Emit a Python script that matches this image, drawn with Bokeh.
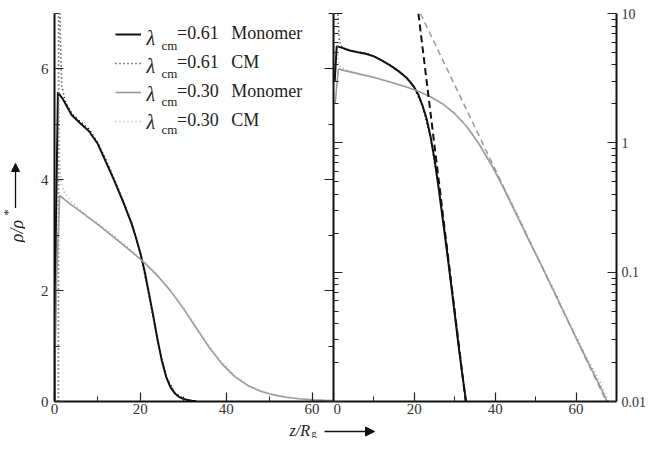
import numpy as np
from bokeh.plotting import figure
from bokeh.layouts import row, column
from bokeh.models import (LinearAxis, LogAxis, SingleIntervalTicker, FixedTicker, Label, Arrow,
                          NormalHead, Legend, LegendItem, CustomJSTickFormatter, Range1d)
from bokeh.embed import file_html
from bokeh.resources import INLINE

# ---------------- data ----------------
z_mono_061 = [0, 0.3, 0.8, 2, 4, 6, 8, 10, 12, 14, 16, 18, 19, 20, 21, 22, 23, 24, 25, 26, 27, 28, 29, 30, 31, 32, 33]
rho_mono_061 = [0, 3.0, 5.58, 5.45, 5.17, 5.02, 4.88, 4.66, 4.32, 3.97, 3.6, 3.2, 2.95, 2.68, 2.35, 1.95, 1.55, 1.12,
                0.74, 0.45, 0.26, 0.15, 0.085, 0.047, 0.026, 0.015, 0.009]

z_cm_061 = [0.9, 1.0, 1.15, 1.35, 1.7, 2.5, 4, 6, 8, 10, 12, 14, 16, 18, 20, 22, 24, 26, 28, 30, 32]
rho_cm_061 = [0, 14, 9, 6.6, 5.7, 5.4, 5.2, 5.05, 4.92, 4.68, 4.36, 4.0, 3.62, 3.22, 2.66, 1.92, 1.1, 0.45,
              0.16, 0.05, 0.015]

z_mono_030 = [0, 0.4, 1.2, 3, 6, 10, 14, 18, 21, 24, 27, 30, 33, 36, 39, 42, 45, 48, 51, 54, 57, 60, 63, 66, 68]
rho_mono_030 = [0, 2.0, 3.72, 3.6, 3.43, 3.2, 2.95, 2.7, 2.5, 2.27, 2.0, 1.68, 1.33, 0.98, 0.68, 0.45, 0.29,
                0.185, 0.12, 0.077, 0.049, 0.031, 0.02, 0.013, 0.0095]

z_cm_030 = [0.9, 1.0, 1.2, 1.6, 2.5, 4, 7, 10, 14, 18, 22, 26, 30, 34, 38, 42, 46, 50, 54, 58, 62, 66, 68]
rho_cm_030 = [0, 6.0, 4.4, 3.9, 3.75, 3.6, 3.38, 3.22, 2.98, 2.72, 2.42, 2.1, 1.7, 1.22, 0.79, 0.46, 0.26,
              0.14, 0.079, 0.043, 0.024, 0.014, 0.01]

# exponential tail fits (right, log panel)
fit_z_061 = [21.0, 32.7]
fit_rho_061 = [10.0, 0.01]
fit_z_030 = [21.5, 67.5]
fit_rho_030 = [10.0, 0.01]

legend_values = ["0.61", "0.61", "0.30", "0.30"]
legend_kinds = ["Monomer", "CM", "Monomer", "CM"]
log_major = [0.01, 0.1, 1, 10]
log_minor = [m * 10.0 ** e for e in (-2, -1, 0) for m in range(2, 10)]

SERIF = "Liberation Serif"
BLACK = "#111111"
TXT = "#222222"
GREY = "#999999"
GREY_DOT = "#a8a8a8"


def style_axis(ax, labels=True):
    ax.axis_line_width = 2
    ax.axis_line_color = BLACK
    ax.major_tick_in = 9
    ax.major_tick_out = 0
    ax.minor_tick_in = 5
    ax.minor_tick_out = 0
    ax.major_tick_line_color = "#222222"
    ax.minor_tick_line_color = "#222222"
    ax.major_tick_line_width = 1.2
    ax.minor_tick_line_width = 1.0
    ax.major_label_text_font = SERIF
    ax.major_label_text_font_size = "15px"
    ax.major_label_text_color = "#333333"
    ax.major_label_standoff = 5
    if not labels:
        ax.formatter = CustomJSTickFormatter(code="return ''")
        ax.major_label_standoff = 0


def pos(xs, ys):
    xs2, ys2 = [], []
    for a, b in zip(xs, ys):
        if b > 0:
            xs2.append(a)
            ys2.append(b)
    return xs2, ys2


def blank(w, h):
    f = figure(width=w, height=h, x_range=Range1d(0, w), y_range=Range1d(0, h),
               x_axis_type=None, y_axis_type=None, output_backend="svg", toolbar_location=None,
               min_border_left=0, min_border_right=0, min_border_top=0, min_border_bottom=0)
    f.outline_line_color = None
    f.grid.visible = False
    return f


TOP_B = 13
FRAME_H = 388
BOT_B = 18
TOP_H = TOP_B + FRAME_H + BOT_B   # 419
PL_W = 25

# ---------------- left (linear) panel ----------------
p1 = figure(width=308, height=TOP_H, x_range=Range1d(0, 65), y_range=Range1d(0, 7),
            output_backend="svg", toolbar_location=None,
            min_border_left=29, min_border_right=0, min_border_top=TOP_B, min_border_bottom=BOT_B)
p1.outline_line_color = None
p1.grid.visible = False
p1.xaxis.ticker = SingleIntervalTicker(interval=20, num_minor_ticks=2)
p1.yaxis.ticker = SingleIntervalTicker(interval=2, num_minor_ticks=2)
for ax in p1.xaxis + p1.yaxis:
    style_axis(ax)
p1.xaxis.major_label_standoff = 2
p1.yaxis.major_label_standoff = 6
rax = LinearAxis(ticker=SingleIntervalTicker(interval=2, num_minor_ticks=2))
style_axis(rax, labels=False)
p1.add_layout(rax, "right")

r1 = p1.line(z_mono_061, rho_mono_061, line_color=BLACK, line_width=2)
r2 = p1.line(z_cm_061, rho_cm_061, line_color=BLACK, line_width=1.6, line_dash="1 3")
r3 = p1.line(z_mono_030, rho_mono_030, line_color=GREY, line_width=1.6)
r4 = p1.line(z_cm_030, rho_cm_030, line_color=GREY_DOT, line_width=1.6, line_dash="1 3")

items = []
for r, v, k in zip([r1, r2, r3, r4], legend_values, legend_kinds):
    items.append(LegendItem(label="=" + v + "\u2002\u2009" + k, renderers=[r]))
legend = Legend(items=items, location=(61, 270), orientation="vertical", padding=0, margin=0,
                spacing=8, glyph_width=26, glyph_height=20, label_height=20, label_standoff=36,
                label_text_font=SERIF, label_text_font_size="18px", label_text_color=TXT,
                background_fill_alpha=0, border_line_color=None)
p1.add_layout(legend)

for i in range(len(legend_values)):
    p1.add_layout(Label(x=92, y=364 - 28 * i, x_units="screen", y_units="screen", text="λ",
                        text_font=SERIF, text_font_style="italic", text_font_size="20px",
                        text_baseline="middle", text_color=TXT))
    p1.add_layout(Label(x=107, y=356 - 28 * i, x_units="screen", y_units="screen", text="cm",
                        text_font=SERIF, text_font_size="13px",
                        text_baseline="middle", text_color=TXT))

# ---------------- right (log) panel ----------------
p2 = figure(width=316, height=TOP_H, x_range=Range1d(0, 70), y_range=Range1d(0.01, 10),
            y_axis_type="log", y_axis_location="right",
            output_backend="svg", toolbar_location=None,
            min_border_left=0, min_border_right=30, min_border_top=TOP_B, min_border_bottom=BOT_B)
p2.outline_line_color = None
p2.grid.visible = False
p2.xaxis.ticker = SingleIntervalTicker(interval=20, num_minor_ticks=2)
p2.yaxis.ticker = FixedTicker(ticks=log_major, minor_ticks=log_minor)
for ax in p2.xaxis + p2.yaxis:
    style_axis(ax)
p2.xaxis.major_label_standoff = 2
p2.yaxis.major_label_standoff = 5
p2.yaxis.major_label_text_font_size = "14px"
p2.yaxis.formatter = CustomJSTickFormatter(code="return tick >= 1 ? tick.toFixed(0) : String(tick)")
lax = LogAxis(ticker=FixedTicker(ticks=log_major, minor_ticks=log_minor))
style_axis(lax, labels=False)
p2.add_layout(lax, "left")

p2.line(*pos(z_mono_061, rho_mono_061), line_color=BLACK, line_width=2)
p2.line(*pos(z_cm_061, rho_cm_061), line_color=BLACK, line_width=1.6, line_dash="1 3")
p2.line(*pos(z_mono_030, rho_mono_030), line_color=GREY, line_width=1.6)
p2.line(*pos(z_cm_030, rho_cm_030), line_color=GREY_DOT, line_width=1.6, line_dash="1 3")
p2.line(fit_z_061, fit_rho_061, line_color=BLACK, line_width=2, line_dash="7 4")
p2.line(fit_z_030, fit_rho_030, line_color=GREY, line_width=1.5, line_dash="6 4")

# ---------------- y title strip (left) ----------------
pl = blank(PL_W, TOP_H)
pl.add_layout(Label(x=16, y=TOP_H - 235, text="ρ/ρ", angle=np.pi / 2,
                    text_font=SERIF, text_font_style="italic", text_font_size="18px",
                    text_align="center", text_baseline="middle", text_color=TXT))
pl.add_layout(Label(x=7, y=TOP_H - 215, text="*", angle=np.pi / 2,
                    text_font=SERIF, text_font_size="13px",
                    text_align="center", text_baseline="middle", text_color=TXT))
pl.add_layout(Arrow(x_start=15, y_start=TOP_H - 210, x_end=15, y_end=TOP_H - 162,
                    line_color=BLACK, line_width=1.3,
                    end=NormalHead(size=8, fill_color=BLACK, line_color=BLACK)))

# ---------------- x title strip (bottom) ----------------
BOT_H = 19
pb = blank(646, BOT_H)
pb.add_layout(Label(x=289, y=0, text="z/R",
                    text_font=SERIF, text_font_style="italic", text_font_size="16px",
                    text_baseline="bottom", text_color=TXT))
pb.add_layout(Label(x=311, y=0, text="g",
                    text_font=SERIF, text_font_size="10px",
                    text_baseline="bottom", text_color=TXT))
pb.add_layout(Arrow(x_start=324, y_start=7, x_end=374, y_end=7,
                    line_color=BLACK, line_width=1.3,
                    end=NormalHead(size=9, fill_color=BLACK, line_color=BLACK)))

layout = column(row(pl, p1, p2, spacing=0), pb, spacing=0)
open("out.html", "w").write(file_html(layout, INLINE))
